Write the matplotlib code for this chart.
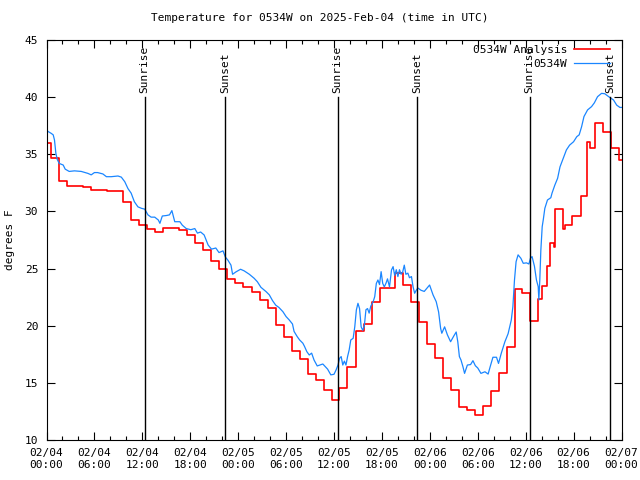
import pandas as pd
import matplotlib
matplotlib.use('Agg')
import matplotlib.pyplot as plt
import matplotlib.dates as mdates

# horas desde 2025-02-04 00:00 UTC
red_hours = [0.0, 0.6, 1.6, 2.6, 4.6, 5.6, 7.6, 9.6, 10.6, 11.6, 12.6, 13.6, 14.6, 16.6, 17.6,
             18.6, 19.6, 20.6, 21.6, 22.6, 23.6, 24.6, 25.7, 26.7, 27.7, 28.7, 29.7, 30.7, 31.7,
             32.7, 33.7, 34.7, 35.7, 36.6, 37.6, 38.7, 39.7, 40.7, 41.7, 43.7, 44.7, 45.7, 46.6,
             47.7, 48.7, 49.7, 50.7, 51.7, 52.7, 53.7, 54.7, 55.7, 56.7, 57.7, 58.7, 59.6, 60.6,
             61.6, 62.05, 62.65, 63.0, 63.5, 63.65, 63.7, 64.65, 64.9, 65.8, 66.9, 67.67, 68.0,
             68.67, 69.67, 70.68, 71.68, 72.0]
red_temp = [36.0, 34.65, 32.66, 32.2, 32.1, 31.9, 31.8, 30.8, 29.25, 28.8, 28.45, 28.2, 28.55, 28.4,
            27.9, 27.25, 26.6, 25.65, 24.95, 24.05, 23.7, 23.35, 22.95, 22.25, 21.55, 20.05, 19.05,
            17.75, 17.05, 15.8, 15.25, 14.4, 13.5, 14.55, 16.35, 19.55, 20.15, 22.05, 23.3, 24.6,
            23.55, 22.1, 20.35, 18.4, 17.15, 15.45, 14.35, 12.9, 12.6, 12.2, 13.0, 14.25, 15.9,
            18.1, 23.25, 22.85, 20.45, 22.3, 23.5, 25.2, 27.2, 26.9, 28.4, 30.25, 28.5, 28.8, 29.6,
            31.35, 36.1, 35.55, 37.7, 36.95, 35.55, 34.5, 34.5]

blue_hours = [0.0, 0.3, 0.59, 0.84, 1.0, 1.17, 1.34, 1.59, 2.09, 2.34, 2.84, 3.5, 4.35, 5.18, 5.6,
              6.0, 6.4, 7.06, 7.5, 8.1, 8.95, 9.37, 9.8, 10.2, 10.6, 11.0, 11.45, 11.9, 12.3, 12.7,
              13.1, 13.55, 14.0, 14.2, 14.5, 15.0, 15.4, 15.7, 16.06, 16.7, 17.0, 17.5, 18.07,
              18.57, 18.9, 19.3, 19.74, 20.24, 20.66, 21.2, 21.6, 22.1, 22.4, 22.7, 23.1, 23.3,
              23.7, 24.3, 24.75, 25.4, 26.0, 26.4, 26.85, 27.5, 27.9, 28.3, 28.7, 29.1, 29.6, 30.0,
              30.4, 30.8, 31.0, 31.4, 31.7, 32.1, 32.3, 32.6, 32.9, 33.2, 33.5, 33.9, 34.6, 35.2,
              35.6, 36.0, 36.26, 36.5, 36.7, 36.9, 37.1, 37.3, 37.5, 37.7, 37.9, 38.1, 38.4, 38.6,
              38.8, 39.0, 39.2, 39.4, 39.6, 39.8, 40.0, 40.2, 40.4, 40.6, 40.9, 41.1, 41.3, 41.5,
              41.7, 41.9, 42.1, 42.3, 42.5, 42.7, 42.95, 43.2, 43.4, 43.6, 43.8, 44.0, 44.2, 44.4,
              44.6, 44.8, 45.0, 45.25, 45.45, 45.7, 45.9, 46.1, 46.3, 46.5, 46.9, 47.3, 47.97,
              48.4, 48.8, 49.1, 49.35, 49.5, 49.85, 50.2, 50.6, 51.0, 51.3, 51.5, 51.7, 51.9,
              52.15, 52.35, 52.7, 53.1, 53.4, 53.7, 54.0, 54.4, 54.9, 55.3, 55.55, 55.9, 56.35,
              56.6, 56.95, 57.4, 57.8, 58.2, 58.4, 58.6, 58.8, 59.05, 59.4, 59.7, 60.1, 60.4,
              60.6, 60.8, 61.1, 61.35, 61.57, 61.65, 61.77, 61.9, 62.07, 62.2, 62.4, 62.73, 63.15,
              63.3, 63.65, 64.0, 64.3, 64.7, 65.1, 65.5, 66.0, 66.4, 66.7, 67.0, 67.3, 67.75,
              68.25, 68.6, 69.0, 69.5, 69.9, 70.4, 71.0, 71.4, 71.8, 72.0]
blue_temp = [37.1, 36.95, 36.83, 36.7, 36.25, 35.1, 34.56, 34.2, 34.06, 33.7, 33.5, 33.55, 33.5,
             33.33, 33.2, 33.4, 33.4, 33.28, 33.04, 33.04, 33.1, 33.0, 32.6, 32.0, 31.6, 30.85,
             30.4, 30.27, 30.2, 29.7, 29.5, 29.5, 29.25, 28.96, 29.6, 29.64, 29.7, 30.07, 29.1,
             29.1, 28.8, 28.5, 28.4, 28.5, 28.1, 28.2, 27.94, 27.06, 26.7, 26.8, 26.4, 26.55, 26.0,
             25.75, 25.3, 24.5, 24.7, 24.94, 24.8, 24.5, 24.15, 23.85, 23.36, 22.98, 22.7, 22.2,
             21.8, 21.6, 21.23, 20.8, 20.5, 20.15, 19.5, 19.04, 18.75, 18.47, 18.2, 17.73, 17.44,
             17.6, 17.0, 16.48, 16.65, 16.2, 15.7, 15.75, 16.13, 16.56, 17.15, 17.3, 16.56, 16.9,
             16.56, 17.3, 17.88, 18.75, 18.9, 19.9, 21.38, 21.96, 21.5, 19.9, 19.6, 20.0, 21.4,
             21.5, 21.1, 21.7, 22.1, 22.54, 23.7, 24.0, 23.6, 24.73, 23.7, 23.4, 23.7, 24.1, 23.4,
             24.88, 25.17, 24.4, 24.9, 24.3, 24.9, 24.5, 24.7, 25.3, 24.5, 24.6, 24.2, 24.3, 23.4,
             22.84, 23.1, 23.3, 23.1, 23.0, 23.56, 22.7, 22.1, 21.2, 19.77, 19.34, 19.9, 19.2,
             18.6, 19.1, 19.45, 18.6, 17.3, 17.0, 16.4, 15.83, 16.56, 16.6, 16.94, 16.5, 16.3,
             15.83, 15.97, 15.77, 16.4, 17.24, 17.24, 16.7, 17.6, 18.6, 19.3, 20.5, 21.67, 24.0,
             25.6, 26.2, 25.9, 25.46, 25.5, 25.4, 25.9, 26.05, 25.2, 24.0, 23.42, 22.25, 24.0,
             26.6, 28.67, 29.25, 30.27, 31.0, 31.2, 31.6, 32.3, 32.9, 33.9, 34.65, 35.38, 35.8,
             36.1, 36.54, 36.7, 37.4, 38.3, 38.88, 39.17, 39.5, 40.04, 40.33, 40.3, 40.04, 39.75,
             39.3, 39.1, 39.1]

sun_hours = [12.29, 22.37, 36.44, 46.45, 60.5, 70.53]
sun_labels = ['Sunrise', 'Sunset', 'Sunrise', 'Sunset', 'Sunrise', 'Sunset']

base = pd.Timestamp('2025-02-04 00:00')
red_t = base + pd.to_timedelta(red_hours, unit='h')
blue_t = base + pd.to_timedelta(blue_hours, unit='h')
sun_t = base + pd.to_timedelta(sun_hours, unit='h')

plt.rcParams['font.family'] = 'DejaVu Sans Mono'
plt.rcParams['font.size'] = 8

fig = plt.figure(figsize=(6.4, 4.8), dpi=100)
ax = fig.add_axes([46.5 / 640, 40 / 480, 575 / 640, 400 / 480])

ax.plot(red_t, red_temp, color='#ff0000', lw=1.2, drawstyle='steps-post', label='0534W Analysis')
ax.plot(blue_t, blue_temp, color='#1a86ff', lw=0.9, label='0534W')

# linhas de nascer/por do sol
for t, lab in zip(sun_t, sun_labels):
    ax.plot([t, t], [10, 40], color='black', lw=1.0)
    ax.text(t, 40.4, lab, rotation=90, ha='center', va='bottom', fontsize=8)

ax.set_xlim(base, base + pd.Timedelta(hours=72))
ax.set_ylim(10, 45)
ax.set_yticks(range(10, 46, 5))
ax.xaxis.set_major_locator(mdates.HourLocator(byhour=[0, 6, 12, 18]))
ax.xaxis.set_minor_locator(mdates.HourLocator(byhour=range(0, 24, 2)))
ax.xaxis.set_major_formatter(mdates.DateFormatter('%m/%d\n%H:%M'))
ax.tick_params(which='major', direction='in', length=6, width=0.8, top=True, right=True, labelsize=8, pad=6)
ax.tick_params(which='minor', direction='in', length=3, width=0.8, top=True, right=False)

ax.set_ylabel('degrees F', fontsize=8, labelpad=7)
fig.text(0.5, 0.962, 'Temperature for 0534W on 2025-Feb-04 (time in UTC)', ha='center', va='center', fontsize=8)

leg = ax.legend(loc='upper right', bbox_to_anchor=(1 - 4 / 575, 1 + 3 / 400), frameon=False,
                markerfirst=False, handlelength=3.2, handletextpad=0.6, borderaxespad=0.3,
                labelspacing=0.4, fontsize=8)
for txt in leg.get_texts():
    txt.set_ha('right')

fig.savefig('out.png', dpi=100)
